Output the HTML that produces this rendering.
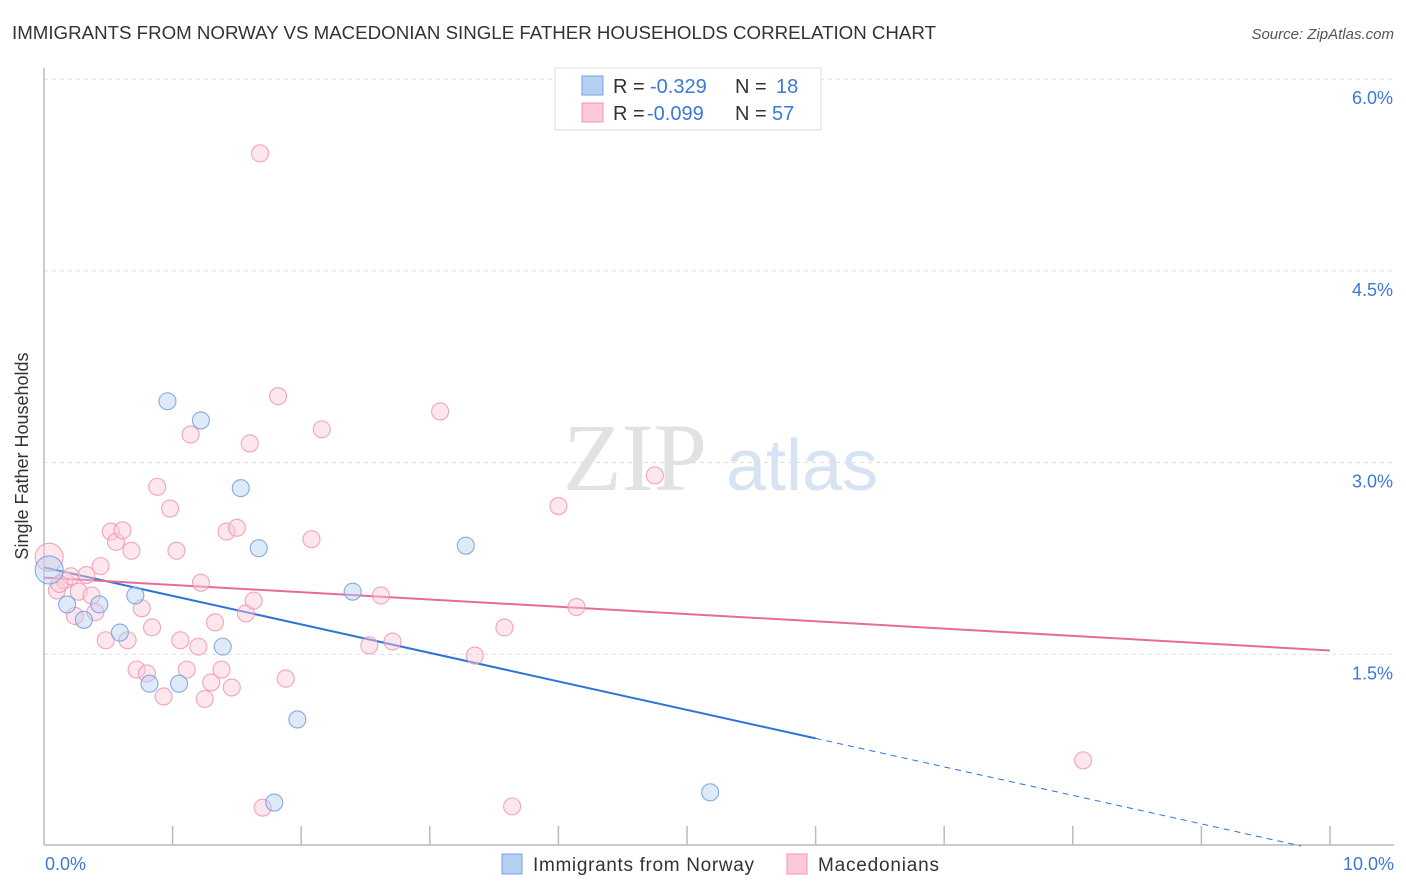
<!DOCTYPE html>
<html><head><meta charset="utf-8"><style>
body{margin:0;background:#fff;width:1406px;height:892px;overflow:hidden;font-family:"Liberation Sans",sans-serif}
svg{position:absolute;left:0;top:0}
</style></head><body>
<svg width="1406" height="892">
<text x="12" y="39" font-size="18" fill="#333" textLength="924" lengthAdjust="spacingAndGlyphs">IMMIGRANTS FROM NORWAY VS MACEDONIAN SINGLE FATHER HOUSEHOLDS CORRELATION CHART</text>
<text x="1394" y="39" font-size="15" fill="#555" font-style="italic" text-anchor="end">Source: ZipAtlas.com</text>
<g>
<text x="635" y="490" font-size="96" fill="#e2e2e2" font-family="Liberation Serif" text-anchor="middle">ZIP</text>
<text x="802" y="490" font-size="72" fill="#d6e3f3" text-anchor="middle">atlas</text>
</g>
<g id="grid"></g>
<line x1="44" y1="68" x2="44" y2="845" stroke="#bbb" stroke-width="1.5"/>
<line x1="44" y1="845" x2="1394" y2="845" stroke="#bbb" stroke-width="1.5"/>
<g id="xt"></g>
<g id="lines"></g>
<g id="pts"></g>
<text x="28" y="456" font-size="18" fill="#333" text-anchor="middle" transform="rotate(-90 28 456)">Single Father Households</text>
<text x="45" y="870" font-size="18" fill="#3b78d8">0.0%</text>
<text x="1394" y="870" font-size="18" fill="#3b78d8" text-anchor="end">10.0%</text>
<g>
<rect x="555" y="68" width="266" height="62" fill="#fff" stroke="#ddd"/>
<rect x="582" y="76" width="21" height="19" fill="#b7d0f2" stroke="#6f9fe0"/>
<rect x="582" y="103" width="21" height="19" fill="#fbc9d7" stroke="#ee95b0"/>
<text x="613" y="93" font-size="20" fill="#333">R = <tspan fill="#3b78d8" x="650">-0.329</tspan><tspan x="735">N = </tspan><tspan fill="#3b78d8" x="776">18</tspan></text>
<text x="613" y="120" font-size="20" fill="#333">R = <tspan fill="#3b78d8" x="647">-0.099</tspan><tspan x="735">N = </tspan><tspan fill="#3b78d8" x="772">57</tspan></text>
</g>
<g>
<rect x="502" y="854" width="20" height="20" fill="#b7d0f2" stroke="#6f9fe0"/>
<text x="533" y="871" font-size="19" fill="#333" textLength="221">Immigrants from Norway</text>
<rect x="787" y="854" width="20" height="20" fill="#fbc9d7" stroke="#ee95b0"/>
<text x="818" y="871" font-size="19" fill="#333" textLength="121">Macedonians</text>
</g>
</svg>
<script>
const yTicks=[1.5,3.0,4.5,6.0];
const xTicks=[1,2,3,4,5,6,7,8,9,10];
const blueX=[0.04,0.18,0.31,0.43,0.59,0.71,0.82,0.96,1.05,1.22,1.39,1.53,1.67,1.79,1.97,2.40,3.28,5.18];
const blueY=[2.16,1.89,1.77,1.89,1.67,1.96,1.27,3.48,1.27,3.33,1.56,2.80,2.33,0.34,0.99,1.99,2.35,0.42];
const pinkX=[0.04,0.10,0.16,0.21,0.27,0.33,0.37,0.40,0.44,0.48,0.52,0.56,0.61,0.65,0.68,0.72,0.76,0.80,0.84,0.88,0.93,0.98,1.03,1.06,1.11,1.14,1.20,1.22,1.25,1.30,1.33,1.38,1.42,1.46,1.50,1.57,1.60,1.63,1.68,1.70,1.82,1.88,2.08,2.16,2.53,2.62,2.71,3.08,3.35,3.58,3.64,4.00,4.14,4.75,8.08,0.12,0.24];
const pinkY=[2.26,2.00,2.08,2.11,1.99,2.12,1.96,1.83,2.19,1.61,2.46,2.38,2.47,1.61,2.31,1.38,1.86,1.35,1.71,2.81,1.17,2.64,2.31,1.61,1.38,3.22,1.56,2.06,1.15,1.28,1.75,1.38,2.46,1.24,2.49,1.82,3.15,1.92,5.42,0.30,3.52,1.31,2.40,3.26,1.57,1.96,1.60,3.40,1.49,1.71,0.31,2.66,1.87,2.90,0.67,2.05,1.80];
const blueTrend=[2.18,-0.223];
const pinkTrend=[2.10,-0.057];
const NS='http://www.w3.org/2000/svg';
const X=v=>44+v*128.6, Y=v=>846-v*127.8;
function mk(t,a,p){const e=document.createElementNS(NS,t);for(const k in a)e.setAttribute(k,a[k]);document.getElementById(p).appendChild(e);return e;}
yTicks.forEach(v=>{
 const l=mk('line',{x1:44,x2:1394,y1:Y(v),y2:Y(v),stroke:'#ddd','stroke-dasharray':'4,4'},'grid');
 
 
 const t=mk('text',{x:1393,y:Y(v)+25,'font-size':18,fill:'#3b78d8','text-anchor':'end'},'grid');
 t.textContent=v.toFixed(1)+'%';
 
 
});
xTicks.forEach(v=>{
 const l=mk('line',{x1:X(v),x2:X(v),y1:826,y2:845,stroke:'#bbb','stroke-width':1.5},'xt');
 
 
});
function pts(xs,ys,fill,stroke,name){xs.forEach((x,i)=>{
 const r=(i===0)?14:8.5;
 const c=mk('circle',{cx:X(x),cy:Y(ys[i]),r:r,fill:fill,'fill-opacity':0.45,stroke:stroke,'stroke-width':1.1,'stroke-opacity':0.85},'pts');
 
 
});}
pts(pinkX,pinkY,'#fbc9d7','#ee95b0','macedonians-point');
pts(blueX,blueY,'#b7d0f2','#6f9fe0','norway-point');
const bl=mk('line',{x1:X(0),y1:Y(blueTrend[0]),x2:X(6),y2:Y(blueTrend[0]+6*blueTrend[1]),stroke:'#2f72d8','stroke-width':2},'lines');


const xe=-blueTrend[0]/blueTrend[1];
const bd=mk('line',{x1:X(6),y1:Y(blueTrend[0]+6*blueTrend[1]),x2:X(xe),y2:Y(0),stroke:'#2f72d8','stroke-width':1,'stroke-dasharray':'6,5'},'lines');


const pl=mk('line',{x1:X(0),y1:Y(pinkTrend[0]),x2:X(10),y2:Y(pinkTrend[0]+10*pinkTrend[1]),stroke:'#e8699a','stroke-width':2},'lines');


</script>
</body></html>
